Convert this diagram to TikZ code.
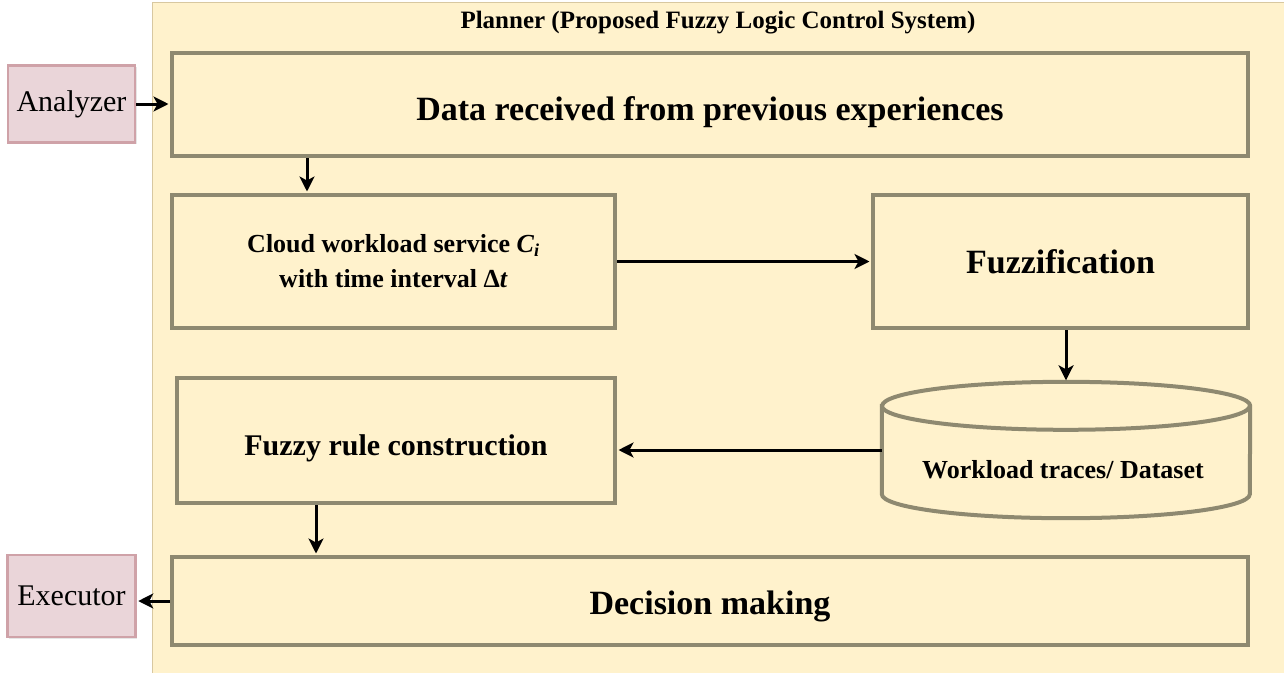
\documentclass[tikz,border=0pt]{standalone}
\usepackage{fontspec}
\setmainfont{Liberation Serif}
\usepackage{tikz}
\usetikzlibrary{arrows.meta, shadows}

\definecolor{plannerfill}{RGB}{255,242,204}
\definecolor{plannerline}{RGB}{216,200,160}
\definecolor{boxline}{RGB}{142,137,112}
\definecolor{agentfill}{RGB}{234,213,217}
\definecolor{agentline}{RGB}{207,162,168}

\tikzset{
  stage/.style={rectangle, draw=boxline, line width=4pt, fill=plannerfill, align=center,
    inner sep=0pt, drop shadow={shadow xshift=1.5pt, shadow yshift=-1.5pt, opacity=0.25}},
  agent/.style={rectangle, draw=agentline, line width=2.5pt, fill=agentfill, inner sep=0pt,
    font=\fontsize{30}{36}\selectfont, drop shadow={shadow xshift=1.5pt, shadow yshift=-1.5pt, opacity=0.2}},
  store/.style={draw=boxline, line width=4pt, fill=plannerfill},
  flow/.style={-{Stealth[length=15pt, width=15pt, inset=4pt]}, line width=3pt, black, shorten >=1.5pt},
}

\begin{document}
\begin{tikzpicture}[x=1pt, y=-1pt]
            \useasboundingbox (0,0) rectangle (1284,672);
            % Planner area
            \path[fill=plannerfill, draw=plannerline, line width=1pt] (152,2) rectangle (1300,690);
            \node[font=\fontsize{25}{28}\selectfont\bfseries] (title) at (718,23) {Planner (Proposed Fuzzy Logic Control System)};

            % Objects
            \node[agent, minimum width=127pt, minimum height=77pt] (analyzer) at (71.5,104) {Analyzer};
            \node[agent, minimum width=128pt, minimum height=82pt] (executor) at (71.5,596) {Executor};
            \node[stage, minimum width=1076pt, minimum height=103pt, text height=32pt, text depth=0pt,
              font=\fontsize{34}{40}\selectfont\bfseries] (data) at (710,104.5) {Data received from previous experiences};
            \node[stage, minimum width=443pt, minimum height=133pt, font=\fontsize{26}{35}\selectfont\bfseries] (cloud) at (393.5,261.5)
              {Cloud workload service \textit{C}\textsubscript{\textit{i}}\\with time interval Δ\textit{t}};
            \node[stage, minimum width=375pt, minimum height=133pt, font=\fontsize{34}{40}\selectfont\bfseries] (fuzz) at (1060.5,261.5) {Fuzzification};
            \node[stage, minimum width=438pt, minimum height=125pt, text height=29pt, text depth=0pt,
              font=\fontsize{30}{36}\selectfont\bfseries] (rule) at (396,440.5) {Fuzzy rule construction};
            \node[stage, minimum width=1076pt, minimum height=88pt, text height=26pt, text depth=0pt,
              font=\fontsize{34}{40}\selectfont\bfseries] (decision) at (710,601) {Decision making};

            % Dataset cylinder
            \node[minimum width=368pt, minimum height=136pt, inner sep=0pt] (traces) at (1066,450) {};
            \path[store] ([yshift=-24pt]traces.north west) -- ([yshift=24pt]traces.south west)
              arc[start angle=180, end angle=360, x radius=184pt, y radius=24pt]
              -- ([yshift=-24pt]traces.north east)
              arc[start angle=0, end angle=180, x radius=184pt, y radius=24pt] -- cycle;
            \draw[store, fill=none] ([yshift=-24pt]traces.north west)
              arc[start angle=180, end angle=360, x radius=184pt, y radius=24pt];
            \node[font=\fontsize{26}{30}\selectfont\bfseries] (traceslabel) at (1063,470) {Workload traces/ Dataset};

            % Arrows
            \draw[flow] (analyzer.east) -- (analyzer.east -| data.west);
            \draw[flow] ([xshift=-86.5pt]cloud.north |- data.south) -- ([xshift=-86.5pt]cloud.north);
            \draw[flow] (cloud.east) -- (fuzz.west);
            \draw[flow] (traces.north |- fuzz.south) -- (traces.north);
            \draw[flow] (traces.west) -- (traces.west -| rule.east);
            \draw[flow] ([xshift=-80pt]rule.south) -- ([xshift=-80pt]rule.south |- decision.north);
            \draw[flow] (decision.west) -- (executor.east |- decision.west);
        \end{tikzpicture}
\end{document}
